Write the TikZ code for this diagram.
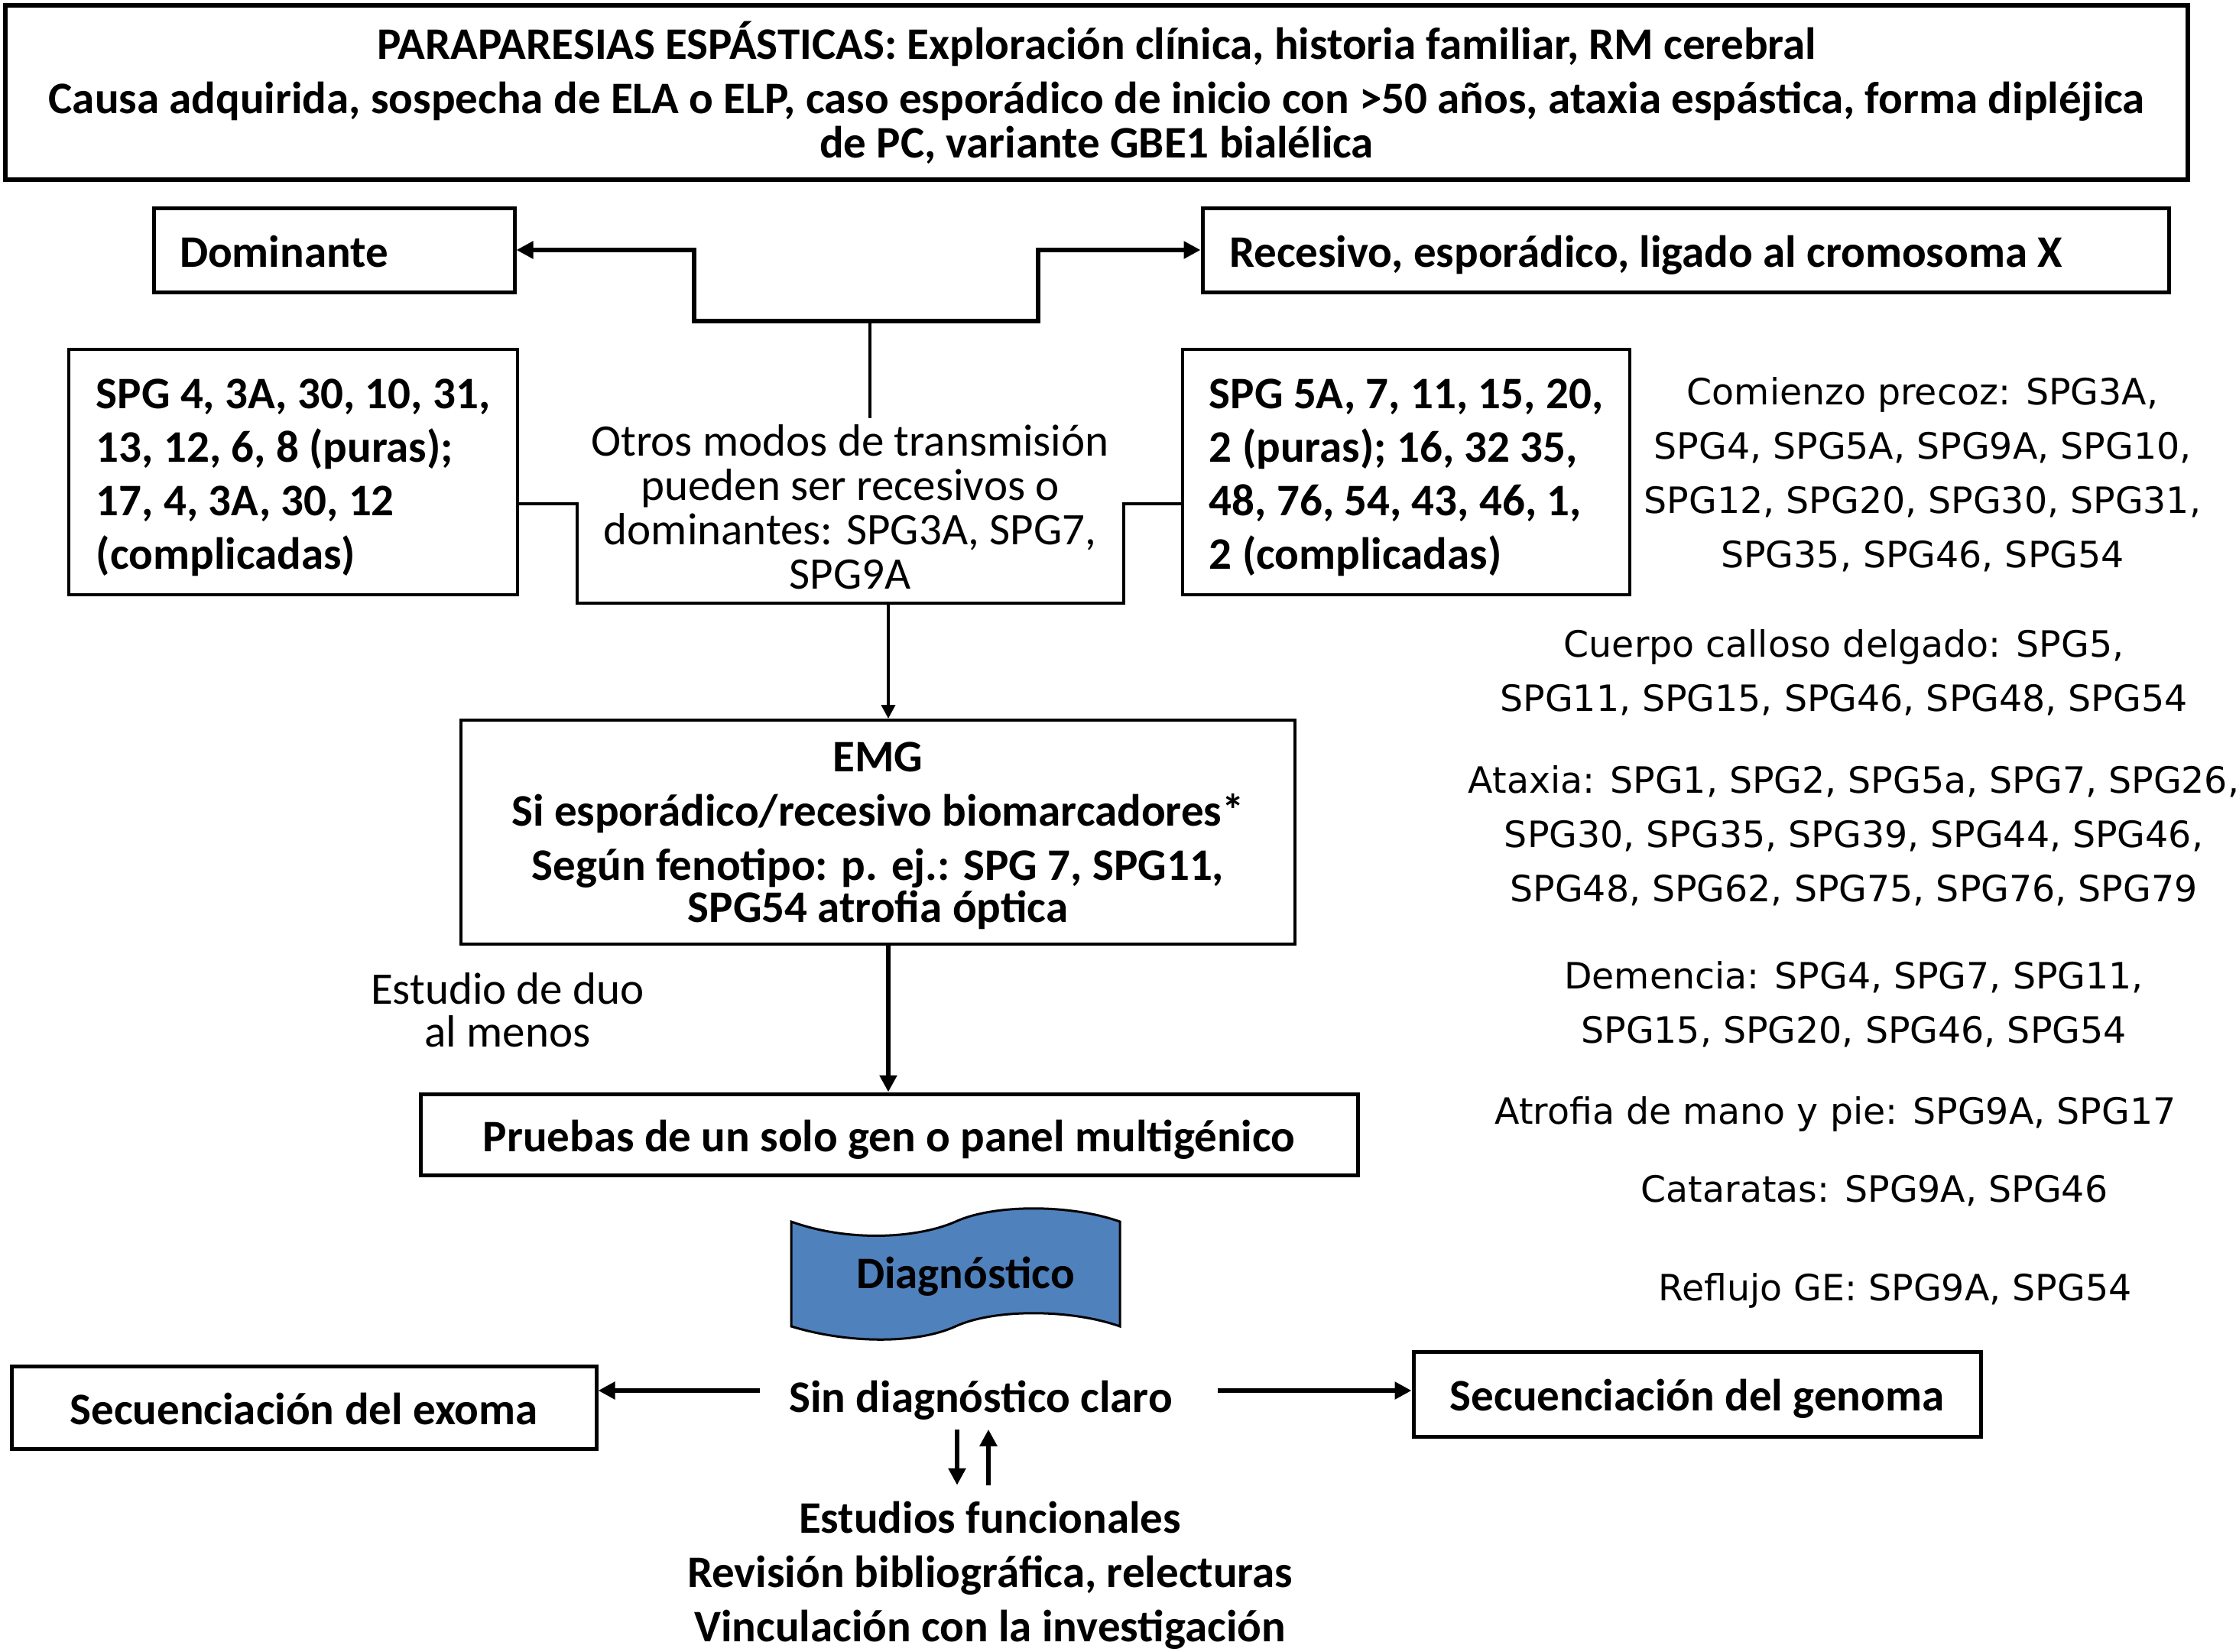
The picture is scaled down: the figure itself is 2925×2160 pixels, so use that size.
\documentclass[tikz,border=0pt]{standalone}
\usepackage{fontspec}
\setmainfont{Carlito}
\newfontfamily\dejavu{DejaVu Sans}
\usetikzlibrary{arrows.meta}
\definecolor{diagblue}{RGB}{79,129,189}
\begin{document}
\begin{tikzpicture}[x=0.5pt,y=-0.5pt,
  box/.style={draw, line width=2.5pt, inner sep=0pt, font=\bfseries\fontsize{29.5}{35}\selectfont},
  oneline/.style={text height=28.9pt, text depth=6.5pt},
  boldtxt/.style={inner sep=0pt, font=\bfseries\fontsize{29.5}{35.5}\selectfont},
  plaintxt/.style={inner sep=0pt, font=\fontsize{29.5}{29}\selectfont},
  side/.style={align=center, inner sep=0pt, font=\dejavu\fontsize{23.7}{35.5}\selectfont},
  conn/.style={line width=3pt},
  thinl/.style={line width=2pt},
  tip/.style={-{Triangle[length=11pt,width=11pt]}},
  tipsmall/.style={-{Triangle[length=9pt,width=9pt]}}
]
\useasboundingbox (0,0) rectangle (2925,2160);

% top box
\node[box, line width=3pt, minimum width=1427.5pt, minimum height=114pt, align=center,
  font=\bfseries\fontsize{29.5}{29}\selectfont] (top) at (1434.5,121)
  {PARAPARESIAS ESPÁSTICAS: Exploración clínica, historia familiar, RM cerebral\\[6.5pt]
   Causa adquirida, sospecha de ELA o ELP, caso esporádico de inicio con >50 años, ataxia espástica, forma dipléjica\\
   de PC, variante GBE1 bialélica};

% inheritance boxes
\node[box, oneline, text width=202pt, inner xsep=17pt, minimum height=55pt, align=flush left] (dom) at (437,327) {Dominante};
\node[box, oneline, text width=597pt, inner xsep=17.5pt, minimum height=55pt, align=flush left] (rec) at (2205,327) {Recesivo, esporádico, ligado al cromosoma X};

% SPG boxes
\node[box, line width=2pt, minimum width=293.5pt, minimum height=160.5pt, align=left] (lspg) at (383.5,617.5)
  {\rule{0pt}{27pt}SPG 4, 3A, 30, 10, 31,\\13, 12, 6, 8 (puras);\\17, 4, 3A, 30, 12\\(complicadas)};
\node[box, line width=2pt, minimum width=292.5pt, minimum height=160.5pt, align=left] (rspg) at (1839.5,617.5)
  {\rule{0pt}{27pt}SPG 5A, 7, 11, 15, 20,\\2 (puras); 16, 32 35,\\48, 76, 54, 43, 46, 1,\\2 (complicadas)};

\node[plaintxt, inner ysep=4pt, align=center] (otros) at (1112,663)
  {Otros modos de transmisión\\pueden ser recesivos o\\dominantes: SPG3A, SPG7,\\SPG9A};

% EMG
\node[box, line width=2pt, minimum width=545.5pt, minimum height=146.5pt, align=center,
  font=\bfseries\fontsize{29.5}{27.5}\selectfont] (emg) at (1148.5,1088.5)
  {\rule{0pt}{24pt}EMG\\[8pt]Si esporádico/recesivo biomarcadores*\\[8pt]Según fenotipo: p. ej.: SPG 7, SPG11,\\SPG54 atrofia óptica};

\node[plaintxt, align=center, font=\fontsize{29.5}{28}\selectfont] (duo) at (664,1321) {Estudio de duo\\al menos};

\node[box, oneline, minimum width=613pt, minimum height=53pt] (pru) at (1163,1484) {Pruebas de un solo gen o panel multigénico};

% Diagnostico shape
\draw[line width=1.5pt, fill=diagblue]
  (1035,1598) .. controls (1110,1625) and (1200,1620) .. (1250,1598)
  .. controls (1300,1575) and (1400,1575) .. (1465,1598) -- (1465,1735)
  .. controls (1400,1712) and (1300,1712) .. (1250,1735)
  .. controls (1200,1758) and (1110,1758) .. (1035,1735) -- cycle;
\node[boldtxt, oneline] (diag) at (1263,1663) {Diagnóstico};

\node[boldtxt, oneline] (sin) at (1283,1825) {Sin diagnóstico claro};
\node[box, oneline, minimum width=382.5pt, minimum height=54pt] (exo) at (397.5,1841) {Secuenciación del exoma};
\node[box, oneline, minimum width=371pt, minimum height=55.5pt] (gen) at (2220,1823.5) {Secuenciación del genoma};
\node[boldtxt, align=center] (func) at (1295,2054)
  {\rule{0pt}{27pt}Estudios funcionales\\Revisión bibliográfica, relecturas\\Vinculación con la investigación};

% right column
\node[side] (precoz) at (2515,621) {Comienzo precoz: SPG3A,\\SPG4, SPG5A, SPG9A, SPG10,\\SPG12, SPG20, SPG30, SPG31,\\SPG35, SPG46, SPG54};
\node[side] (calloso) at (2412,880) {Cuerpo calloso delgado: SPG5,\\SPG11, SPG15, SPG46, SPG48, SPG54};
\node[side] (ataxia) at (2425,1093) {Ataxia: SPG1, SPG2, SPG5a, SPG7, SPG26,\\SPG30, SPG35, SPG39, SPG44, SPG46,\\SPG48, SPG62, SPG75, SPG76, SPG79};
\node[side] (demencia) at (2425,1314) {Demencia: SPG4, SPG7, SPG11,\\SPG15, SPG20, SPG46, SPG54};
\node[side] (atrofia) at (2401,1457) {Atrofia de mano y pie: SPG9A, SPG17};
\node[side] (catar) at (2452,1558) {Cataratas: SPG9A, SPG46};
\node[side] (reflujo) at (2479,1688) {Reflujo GE: SPG9A, SPG54};

% connectors top
\coordinate (jt) at (1138,420);
\coordinate (jtl) at (908,420);
\coordinate (jtr) at (1358,420);
\draw[thinl] (otros.north -| jt) -- (jt);
\draw[conn, tip] (jt) -- (jtl) |- (dom.east);
\draw[conn, tip] (jt) -- (jtr) |- (rec.west);

% bracket
\coordinate (bl0) at (755,659);
\coordinate (bl) at (755,789);
\coordinate (br) at (1470,789);
\coordinate (br0) at (1470,659);
\coordinate (bm) at (1162,789);
\draw[thinl] (lspg.east |- bl0) -- (bl0) -- (bl) -- (br) -- (br0) -- (rspg.west |- br0);
\draw[thinl, tipsmall] (bm) -- (bm |- emg.north);
\draw[line width=2.8pt, tip] (emg.south -| bm) -- (pru.north -| bm);

% bottom arrows
\coordinate (sinL) at ([xshift=-19pt,yshift=3pt]sin.west);
\coordinate (sinR) at ([xshift=29.5pt,yshift=3pt]sin.east);
\draw[line width=3pt, tip] (sinL) -- (sinL -| exo.east);
\draw[line width=3pt, tip] (sinR) -- (sinR -| gen.west);
\coordinate (dA) at ([xshift=-15.5pt,yshift=-4.5pt]sin.south);
\coordinate (uA) at ([xshift=5pt,yshift=-4.5pt]sin.south);
\coordinate (fA) at ([yshift=4pt]func.north);
\draw[conn, tip] (dA) -- (dA |- fA);
\draw[conn, tip] (uA |- fA) -- (uA);
\end{tikzpicture}
\end{document}
